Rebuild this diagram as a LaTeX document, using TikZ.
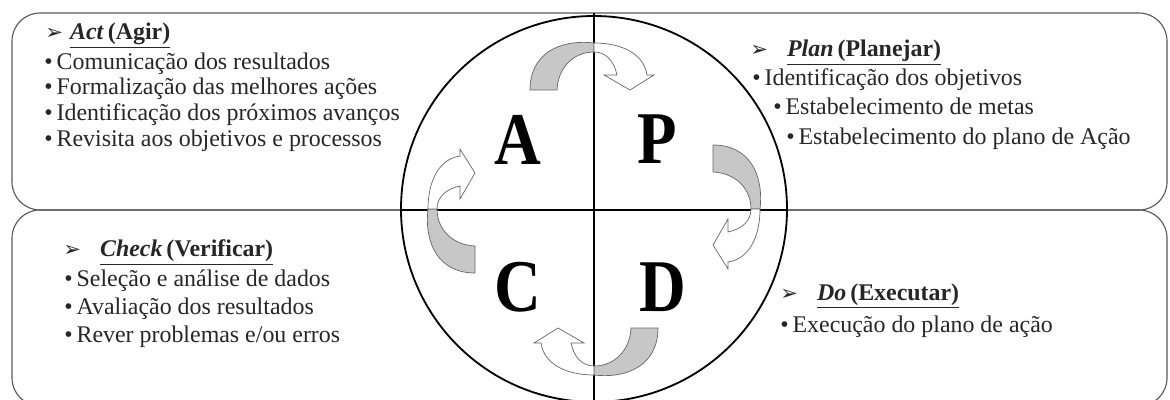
\documentclass[tikz,border=0pt]{standalone}
\usepackage{fontspec}
\setmainfont{Liberation Serif}
\newfontfamily\dingfont{DejaVu Sans}
\usepackage{graphicx}
\usetikzlibrary{positioning}

% heading of one PDCA block: gap, English word, Portuguese word
\newcommand{\phead}[3]{{\dingfont\fontsize{15}{15}\selectfont ➢}\hspace{#1}\underline{\textbf{\textit{#2}}\,\textbf{(#3)}}}
\newcommand{\pitem}[1]{\textbullet\,#1}

\begin{document}
\begin{tikzpicture}[x=0.025cm,y=-0.025cm,
 frame/.style={draw=black!65,line width=.8pt,rounded corners=.7cm},
 cross/.style={line width=1pt},
 txt/.style={anchor=base west,inner sep=0pt,font=\fontsize{17}{20}\selectfont,text=black!85},
 ltr/.style={font=\fontsize{46}{46}\selectfont\bfseries,inner sep=0pt},
 tail/.style={fill=black!22,draw=black!60,line width=.5pt},
 tip/.style={fill=white,draw=black!60,line width=.5pt}]
\useasboundingbox (0,0) rectangle (1170,400);
% two blocks
\draw[frame] (12,13) rectangle (1167,210);
\draw[frame] (12,210) rectangle (1167,406);
% cycle
\draw[line width=1.3pt] (594,209) circle[radius=193];
\draw[cross] (401,210) -- (787,210);
\draw[cross] (594,13) -- (594,400);
\node[ltr] (ltrA) at (518,140) {\scalebox{1}[1.15]{A}};
\node[ltr] (ltrP) at (657,139) {\scalebox{1}[1.15]{P}};
\node[ltr] (ltrC) at (518,287) {\scalebox{1}[1.15]{C}};
\node[ltr] (ltrD) at (663,287) {\scalebox{1}[1.15]{D}};
% curved arrows, one per quadrant change
\foreach \ang in {0,-90,-180,-270}{
\begin{scope}[shift={(594,209)},rotate=\ang]
\draw[tail] (-64,-119) -- (-37,-119) .. controls (-36,-142) and (-20,-157) .. (0,-157)
 -- (0,-166) .. controls (-35,-170) and (-64,-155) .. cycle;
\draw[tip] (0,-166) .. controls (28,-166) and (50,-155) .. (53,-134) -- (60,-134) -- (36,-119)
 -- (10,-134) -- (23,-134) .. controls (20,-148) and (12,-157) .. (0,-157) -- cycle;
\end{scope}}
% Act
\node[txt] (act0) at (45,40) {\phead{.3em}{Act}{Agir}};
\node[txt] (act1) at (44,70) {\pitem{Comunicação dos resultados}};
\node[txt] (act2) at (44,95) {\pitem{Formalização das melhores ações}};
\node[txt] (act3) at (44,121) {\pitem{Identificação dos próximos avanços}};
\node[txt] (act4) at (44,147) {\pitem{Revisita aos objetivos e processos}};
% Plan
\node[txt] (plan0) at (750,57) {\phead{.8em}{Plan}{Planejar}};
\node[txt] (plan1) at (752,86) {\pitem{Identificação dos objetivos}};
\node[txt] (plan2) at (773,115) {\pitem{Estabelecimento de metas}};
\node[txt] (plan3) at (786,145) {\pitem{Estabelecimento do plano de Ação}};
% Check
\node[txt] (chk0) at (63,257) {\phead{.8em}{Check}{Verificar}};
\node[txt] (chk1) at (64,286) {\pitem{Seleção e análise de dados}};
\node[txt] (chk2) at (64,314) {\pitem{Avaliação dos resultados}};
\node[txt] (chk3) at (64,342) {\pitem{Rever problemas e/ou erros}};
% Do
\node[txt] (do0) at (780,300) {\phead{.8em}{Do}{Executar}};
\node[txt] (do1) at (780,332) {\pitem{Execução do plano de ação}};
\end{tikzpicture}
\end{document}
